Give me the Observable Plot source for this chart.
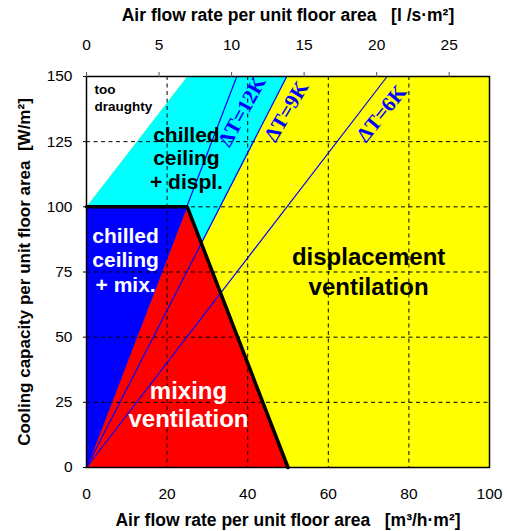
<!DOCTYPE html>
<html>
<head>
<meta charset="utf-8">
<script src="https://cdn.jsdelivr.net/npm/d3@7"></script>
<script src="https://cdn.jsdelivr.net/npm/@observablehq/plot@0.6"></script>
<style>
  html, body { margin: 0; padding: 0; background: #fff; }
  #chart svg { display: block; }
</style>
</head>
<body>
<div id="chart"></div>
<script>
// Axis ticks
const bottomTicks = [0, 20, 40, 60, 80, 100];          // m³/h·m²
const topTicks = [0, 5, 10, 15, 20, 25];               // l/s·m²
const leftTicks = [0, 25, 50, 75, 100, 125, 150];      // W/m²
const gridX = [20, 40, 60, 80, 100];
const gridY = [25, 50, 75, 100, 125];

// Region polygons [air flow m³/h·m², cooling W/m²]
const whiteRegion = [[0, 100], [0, 150], [25, 150]];
const cyanRegion = [[0, 100], [25, 150], [49.7, 150], [28.5, 86], [25, 100]];
const blueRegion = [[0, 0], [0, 100], [25, 100]];
const redRegion = [[0, 0], [25, 100], [50, 0]];

// Thick black boundary
const boundary = [[0, 100], [25, 100], [50, 0]];

// ΔT lines: flow rate where each line reaches 150 W/m²
const deltaT = ["ΔT=12K", "ΔT=9K", "ΔT=6K"];
const deltaTTopFlow = [37.3, 49.7, 74.6];
const deltaTLabelX = [38.6, 49.6, 73.2];
const deltaTLabelY = [136.6, 136.6, 135.8];
const deltaTLabelAngle = [-61, -59, -51];

// Region labels
const regionLabels = ["too\ndraughty", "chilled\nceiling\n+ displ.", "chilled\nceiling\n+ mix.", "mixing\nventilation", "displacement\nventilation"];
const regionX = [2, 24.8, 9.7, 25.3, 70];
const regionY = [142, 118.9, 79.8, 24.2, 75.6];

const titleBottom = "Air flow rate per unit floor area\u00a0\u00a0 [m³/h·m²]";
const titleTop = "Air flow rate per unit floor area\u00a0\u00a0 [l /s·m²]";
const titleLeft = "Cooling capacity per unit floor area\u00a0\u00a0[W/m²]";

const pts = a => a.map(([x, y]) => ({x, y}));
const dtData = deltaT.map((t, i) => ({t, top: deltaTTopFlow[i], lx: deltaTLabelX[i], ly: deltaTLabelY[i], a: deltaTLabelAngle[i]}));
const rl = regionLabels.map((t, i) => ({t, x: regionX[i], y: regionY[i]}));

const font = "Liberation Sans, Arial, Helvetica, sans-serif";

const plot = Plot.plot({
  width: 507,
  height: 531,
  marginLeft: 86,
  marginRight: 18,
  marginTop: 76,
  marginBottom: 64,
  style: {fontFamily: font, background: "white", color: "black"},
  x: {domain: [0, 100]},
  y: {domain: [0, 150]},
  marks: [
    Plot.frame({fill: "#ffff00", stroke: "none"}),
    Plot.line(pts(whiteRegion), {x: "x", y: "y", fill: "white", stroke: "none"}),
    Plot.line(pts(cyanRegion), {x: "x", y: "y", fill: "#00ffff", stroke: "none"}),
    Plot.line(pts(blueRegion), {x: "x", y: "y", fill: "#0000ff", stroke: "none"}),
    Plot.line(pts(redRegion), {x: "x", y: "y", fill: "#ff0000", stroke: "none"}),
    Plot.ruleX(gridX, {stroke: "black", strokeWidth: 1, strokeDasharray: "4,3.5"}),
    Plot.ruleY(gridY, {stroke: "black", strokeWidth: 1, strokeDasharray: "4,3.5"}),
    Plot.link(dtData, {x1: 0, y1: 0, x2: "top", y2: 150, stroke: "#0000ff", strokeWidth: 1.2}),
    ...dtData.map(d => Plot.text([d], {x: "lx", y: "ly", text: "t", rotate: d.a, fill: "#0000ff",
      fontFamily: "Liberation Serif, Times New Roman, serif", fontWeight: "bold", fontSize: 21})),
    Plot.line(pts(boundary), {x: "x", y: "y", stroke: "black", strokeWidth: 3.5, strokeLinejoin: "miter"}),
    Plot.frame({stroke: "black", strokeWidth: 1.5}),
    Plot.text(rl.slice(0, 1), {x: "x", y: "y", text: "t", textAnchor: "start", fontWeight: "bold", fontSize: 13.5, lineHeight: 1.25, fill: "black"}),
    Plot.text(rl.slice(1, 2), {x: "x", y: "y", text: "t", fontWeight: "bold", fontSize: 21, lineHeight: 1.12, fill: "black"}),
    Plot.text(rl.slice(2, 3), {x: "x", y: "y", text: "t", fontWeight: "bold", fontSize: 21, lineHeight: 1.19, fill: "white"}),
    Plot.text(rl.slice(3, 4), {x: "x", y: "y", text: "t", fontWeight: "bold", fontSize: 24, lineHeight: 1.17, fill: "white"}),
    Plot.text(rl.slice(4, 5), {x: "x", y: "y", text: "t", fontWeight: "bold", fontSize: 24, lineHeight: 1.25, fill: "black"}),
    Plot.axisX(bottomTicks, {anchor: "bottom", tickSize: 0, tickPadding: 20, fontSize: 15.5, label: null}),
    Plot.axisX(topTicks.map(t => t * 3.6), {anchor: "top", tickSize: 5, tickPadding: 22, fontSize: 15.5, label: null,
      tickFormat: d => String(Math.round(d / 3.6)), stroke: "#555"}),
    Plot.axisY(leftTicks, {anchor: "left", tickSize: 3, tickPadding: 11, fontSize: 15.5, label: null}),
    Plot.text([titleBottom], {frameAnchor: "bottom", lineAnchor: "middle", dy: 53, fontWeight: "bold", fontSize: 17.5, fill: "black"}),
    Plot.text([titleTop], {frameAnchor: "top", lineAnchor: "middle", dy: -61, fontWeight: "bold", fontSize: 17.5, fill: "black"}),
    Plot.text([titleLeft], {frameAnchor: "left", textAnchor: "middle", lineAnchor: "middle", dx: -62, rotate: -90, fontWeight: "bold", fontSize: 17, fill: "black"})
  ]
});
document.getElementById("chart").appendChild(plot);
</script>
</body>
</html>
